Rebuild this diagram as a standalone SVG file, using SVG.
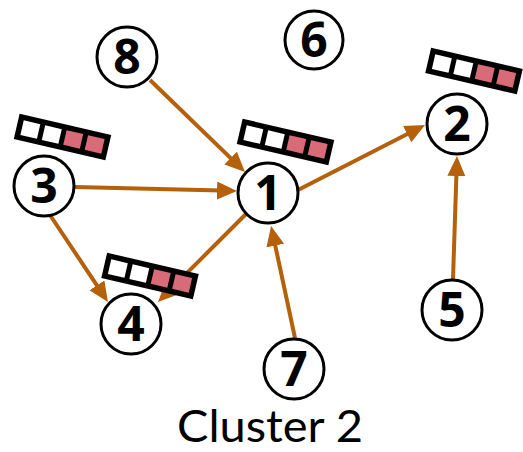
<svg xmlns="http://www.w3.org/2000/svg" width="523" height="452" viewBox="0 0 523 452">
<style>
.node circle{fill:#fff;stroke:#000;stroke-width:3}
.node text{font-family:"Open Sans","DejaVu Sans",sans-serif;font-weight:700;font-size:48px;text-anchor:middle;fill:#000}
.edge{stroke:#b5600b;stroke-width:4;fill:none;marker-end:url(#ah)}
.cw{fill:#fff}.cp{fill:#d96b78}
.title{font-family:Lato,"Open Sans",sans-serif;font-size:44px;fill:#000;text-anchor:middle}
</style>
<defs>
<marker id="ah" markerUnits="userSpaceOnUse" markerWidth="22" markerHeight="20" refX="4" refY="9" orient="auto"><path d="M0,0 L20,9 L0,18 z" fill="#b5600b"/></marker>
<g id="bar">
<rect x="-47" y="-13" width="94" height="26" fill="#000"/>
<rect class="cw" x="-41.5" y="-7.5" width="17" height="15"/>
<rect class="cw" x="-19.5" y="-7.5" width="17" height="15"/>
<rect class="cp" x="2.5" y="-7.5" width="17" height="15"/>
<rect class="cp" x="24.5" y="-7.5" width="17" height="15"/>
</g>
</defs>
<g id="edges">
<line class="edge" x1="150" y1="80" x2="233.5" y2="160.9"/>
<line class="edge" x1="75" y1="187" x2="221" y2="190.6"/>
<line class="edge" x1="298" y1="190" x2="410.8" y2="132.3"/>
<line class="edge" x1="246" y1="214" x2="169.3" y2="290.7"/>
<line class="edge" x1="50" y1="215" x2="99.1" y2="288.7"/>
<line class="edge" x1="295" y1="338" x2="274.4" y2="241.6"/>
<line class="edge" x1="453" y1="279" x2="456.5" y2="172"/>
</g>
<g id="queues">
<use href="#bar" transform="translate(62.5,137) rotate(13)"/>
<use href="#bar" transform="translate(285.5,142) rotate(13)"/>
<use href="#bar" transform="translate(474,71) rotate(13)"/>
<use href="#bar" transform="translate(150,276) rotate(13)"/>
</g>
<g id="n1" class="node"><circle cx="268" cy="193" r="30"/><text x="268" y="210">1</text></g>
<g id="n2" class="node"><circle cx="457" cy="124" r="30"/><text x="457" y="141">2</text></g>
<g id="n3" class="node"><circle cx="44" cy="186" r="30"/><text x="44" y="203">3</text></g>
<g id="n4" class="node"><circle cx="131" cy="324" r="30"/><text x="131" y="341">4</text></g>
<g id="n5" class="node"><circle cx="452" cy="310" r="30"/><text x="452" y="327">5</text></g>
<g id="n6" class="node"><circle cx="314" cy="40" r="29"/><text x="314" y="57">6</text></g>
<g id="n7" class="node"><circle cx="294" cy="369" r="30"/><text x="294" y="386">7</text></g>
<g id="n8" class="node"><circle cx="127" cy="57" r="30"/><text x="127" y="74">8</text></g>
<text class="title" x="270" y="442" textLength="186" lengthAdjust="spacingAndGlyphs">Cluster 2</text>
</svg>
